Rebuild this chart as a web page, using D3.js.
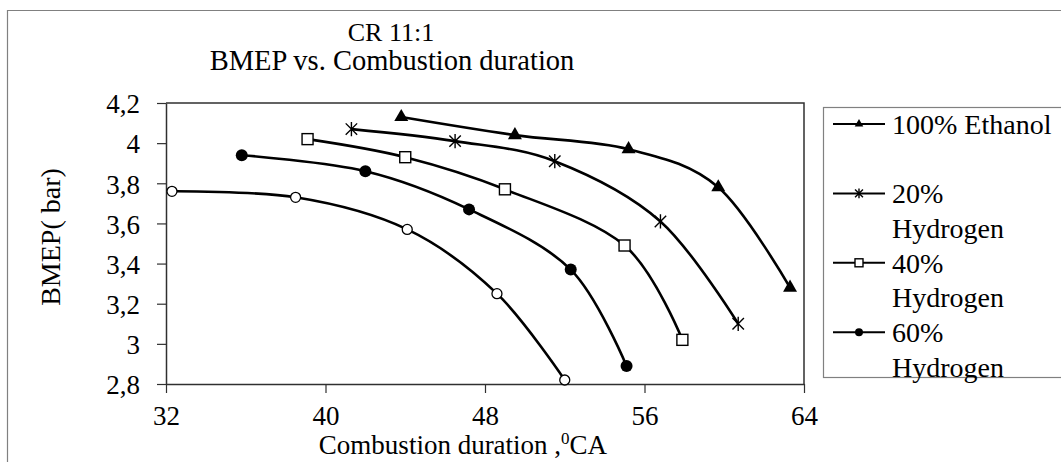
<!DOCTYPE html>
<html>
<head>
<meta charset="utf-8">
<script src="https://cdn.jsdelivr.net/npm/d3@7"></script>
<style>
  body { margin: 0; background: #fff; }
  svg, svg text { font-family: "Liberation Serif", "Times New Roman", serif; fill: #000; }
</style>
</head>
<body>
<svg id="chart" width="1061" height="462"></svg>
<script>
// values (x = combustion duration in °CA, y = BMEP in bar)
const ethanol100 = [[43.8, 4.13], [49.5, 4.04], [55.2, 3.97], [59.7, 3.78], [63.3, 3.28]];
const hydrogen20 = [[41.3, 4.07], [46.5, 4.01], [51.5, 3.91], [56.8, 3.61], [60.7, 3.10]];
const hydrogen40 = [[39.1, 4.02], [44.0, 3.93], [49.0, 3.77], [55.0, 3.49], [57.9, 3.02]];
const hydrogen60 = [[35.8, 3.94], [42.0, 3.86], [47.2, 3.67], [52.3, 3.37], [55.1, 2.89]];
// fifth series (open circles) — its legend entry is cut off in the source picture
const hydrogen80 = [[32.3, 3.76], [38.5, 3.73], [44.1, 3.57], [48.6, 3.25], [52.0, 2.82]];

const seriesNames = ["100% Ethanol", "20% Hydrogen", "40% Hydrogen", "60% Hydrogen", "80% Hydrogen"];
const legendLines = [["100% Ethanol"], ["20%", "Hydrogen"], ["40%", "Hydrogen"], ["60%", "Hydrogen"]];
const xTicks = [32, 40, 48, 56, 64];
const yTicks = [2.8, 3, 3.2, 3.4, 3.6, 3.8, 4, 4.2];

const series = [
  { name: seriesNames[0], values: ethanol100, marker: "triangle" },
  { name: seriesNames[1], values: hydrogen20, marker: "star" },
  { name: seriesNames[2], values: hydrogen40, marker: "square" },
  { name: seriesNames[3], values: hydrogen60, marker: "dot" },
  { name: seriesNames[4], values: hydrogen80, marker: "ring" }
];

const W = 1061, H = 462;
const plot = { left: 166, right: 804, top: 103, bottom: 384 };
const svg = d3.select("#chart");

const x = d3.scaleLinear().domain([32, 64]).range([plot.left, plot.right]);
const y = d3.scaleLinear().domain([2.8, 4.2]).range([plot.bottom, plot.top]);

// chart area border (only left and top edges fall inside the picture)
svg.append("path")
  .attr("d", `M7.5,${H} V10.5 H${W}`)
  .attr("fill", "none").attr("stroke", "#808080").attr("stroke-width", 1.2);

// plot frame, top and right
svg.append("path")
  .attr("d", `M${plot.left},${plot.top} H${plot.right} V${plot.bottom}`)
  .attr("fill", "none").attr("stroke", "#303030").attr("stroke-width", 1.5);

const styleAxis = g => {
  g.attr("font-size", null).attr("font-family", null);
  g.select(".domain").attr("stroke", "#303030").attr("stroke-width", 1.5);
  g.selectAll(".tick line").attr("stroke", "#303030").attr("stroke-width", 1.2);
  g.selectAll(".tick text").style("font-size", "27px");
};

svg.append("g")
  .attr("transform", `translate(0,${plot.bottom})`)
  .call(d3.axisBottom(x).tickValues(xTicks).tickSize(9).tickSizeOuter(0).tickPadding(13).tickFormat(d3.format("d")))
  .call(styleAxis);

svg.append("g")
  .attr("transform", `translate(${plot.left},0)`)
  .call(d3.axisLeft(y).tickValues(yTicks).tickSize(9).tickSizeOuter(0).tickPadding(17)
    .tickFormat(d => String(d).replace(".", ",")))
  .call(styleAxis)
  .call(g => g.selectAll(".tick text").attr("dy", "0.36em"));

// series curves (smoothed like the spreadsheet original)
const line = d3.line()
  .x(d => x(d[0]))
  .y(d => y(d[1]))
  .curve(d3.curveCardinal.tension(0));

svg.append("g")
  .attr("fill", "none")
  .attr("stroke", "#000")
  .attr("stroke-width", 2.6)
  .selectAll("path")
  .data(series)
  .join("path")
  .attr("d", d => line(d.values));

function drawMarker(g, type, s) {
  if (type === "triangle") {
    g.append("path").attr("d", d3.symbol(d3.symbolTriangle, s * s * 0.5)()).attr("fill", "#000");
  } else if (type === "star") {
    const r = s * 0.55, k = r * 0.8;
    g.append("path")
      .attr("d", `M0,${-r}V${r}M${-k},${-k}L${k},${k}M${-k},${k}L${k},${-k}`)
      .attr("stroke", "#000").attr("stroke-width", 1.4).attr("fill", "none");
  } else if (type === "square") {
    const h = s / 2;
    g.append("rect").attr("x", -h).attr("y", -h).attr("width", s).attr("height", s)
      .attr("fill", "#fff").attr("stroke", "#000").attr("stroke-width", 1.4);
  } else if (type === "dot") {
    g.append("circle").attr("r", s / 2).attr("fill", "#000");
  } else if (type === "ring") {
    g.append("circle").attr("r", s / 2 - 0.5).attr("fill", "#fff").attr("stroke", "#000").attr("stroke-width", 1.3);
  }
}

const markerSize = { triangle: 13, star: 13, square: 11, dot: 12, ring: 11 };

series.forEach(sr => {
  sr.values.forEach(v => {
    const g = svg.append("g").attr("transform", `translate(${x(v[0])},${y(v[1])})`);
    drawMarker(g, sr.marker, markerSize[sr.marker]);
  });
});

// titles
svg.append("text")
  .attr("x", 391).attr("y", 41)
  .attr("text-anchor", "middle")
  .style("font-size", "26px")
  .text("CR 11:1");

svg.append("text")
  .attr("x", 392).attr("y", 70)
  .attr("text-anchor", "middle")
  .style("font-size", "28.5px")
  .text("BMEP vs. Combustion duration");

const xLabel = svg.append("text")
  .attr("x", 463).attr("y", 454)
  .attr("text-anchor", "middle")
  .style("font-size", "27px");
xLabel.append("tspan").text("Combustion duration ,");
xLabel.append("tspan").attr("dy", -10).style("font-size", "17px").text("0");
xLabel.append("tspan").attr("dy", 10).text("CA");

svg.append("text")
  .attr("transform", "translate(60,237) rotate(-90)")
  .attr("text-anchor", "middle")
  .style("font-size", "28px")
  .text("BMEP( bar)");

// legend (right part clipped by the picture edge)
const legend = svg.append("g");
legend.append("rect")
  .attr("x", 823.5).attr("y", 107.5)
  .attr("width", 260).attr("height", 270)
  .attr("fill", "#fff").attr("stroke", "#808080").attr("stroke-width", 1.2);

const lineH = 34.7;
legendLines.forEach((lines, i) => {
  const cy = 124 + i * 2 * lineH;
  const g = legend.append("g");
  g.append("line")
    .attr("x1", 833).attr("x2", 885).attr("y1", cy).attr("y2", cy)
    .attr("stroke", "#000").attr("stroke-width", 2);
  const m = g.append("g").attr("transform", `translate(859,${cy})`);
  drawMarker(m, series[i].marker, series[i].marker === "star" ? 9 : 8);
  lines.forEach((t, j) => {
    g.append("text")
      .attr("x", 892).attr("y", cy + j * lineH)
      .attr("dy", "0.35em")
      .style("font-size", "28px")
      .text(t);
  });
});
</script>
</body>
</html>
